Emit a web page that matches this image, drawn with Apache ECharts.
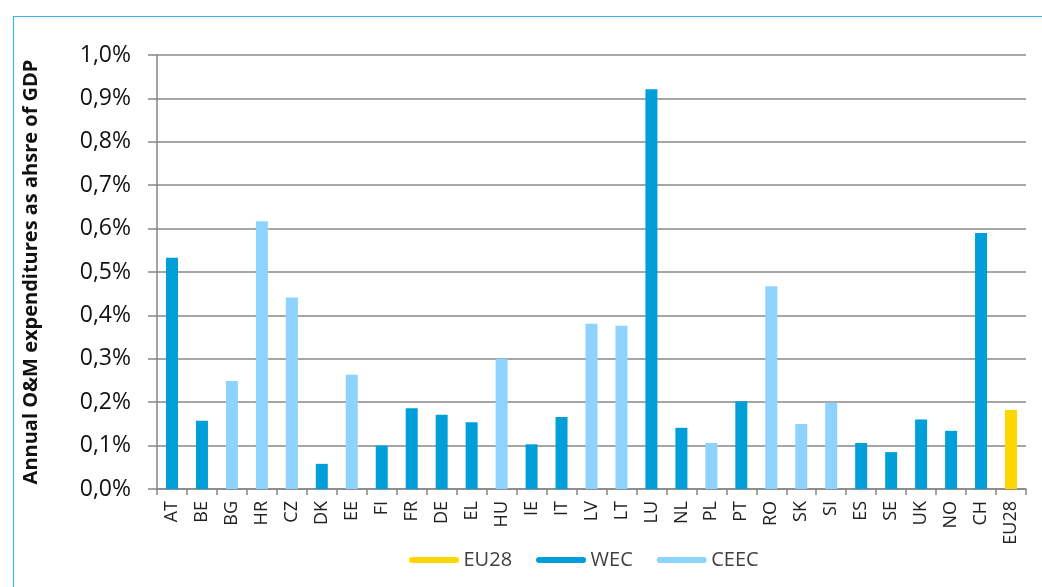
<!DOCTYPE html>
<html>
<head>
<meta charset="utf-8">
<script src="https://cdn.jsdelivr.net/npm/echarts@6/dist/echarts.min.js"></script>
<style>html,body{margin:0;padding:0;background:#fff}#c{width:1042px;height:587px}</style>
</head>
<body>
<div id="c"></div>
<script>
const categories = ['AT','BE','BG','HR','CZ','DK','EE','FI','FR','DE','EL','HU','IE','IT','LV','LT','LU','NL','PL','PT','RO','SK','SI','ES','SE','UK','NO','CH','EU28'];
const values = [0.533,0.157,0.249,0.617,0.441,0.058,0.263,0.100,0.186,0.171,0.154,0.300,0.103,0.166,0.381,0.376,0.921,0.141,0.106,0.202,0.467,0.150,0.199,0.106,0.085,0.160,0.134,0.590,0.182];
const groups = ['WEC','WEC','CEEC','CEEC','CEEC','WEC','CEEC','WEC','WEC','WEC','WEC','CEEC','WEC','WEC','CEEC','CEEC','WEC','WEC','CEEC','WEC','CEEC','CEEC','CEEC','WEC','WEC','WEC','WEC','WEC','EU28'];
const seriesNames = ['EU28','WEC','CEEC'];
const colors = {EU28:'#FFD700', WEC:'#009FD9', CEEC:'#8DD3FD'};

const chart = echarts.init(document.getElementById('c'), null, {renderer:'canvas'});
const FONT = '"Open Sans", "Noto Sans", sans-serif';
const series = seriesNames.map(n => ({
  name: n,
  type: 'bar',
  stack: 'all',
  barWidth: 12,
  itemStyle: {color: colors[n]},
  data: values.map((v,i) => groups[i] === n ? v : '-')
}));

chart.setOption({
  animation: false,
  graphic: [{
    type: 'rect', left: 11, top: 14, silent: true,
    shape: {width: 1100, height: 700},
    style: {fill: 'none', stroke: '#3DB5E6', lineWidth: 1.2}
  }],
  legend: {
    data: seriesNames.map(n => ({name: n, icon: 'path://M3,0 L47,0 A3,3 0 0 1 47,6 L3,6 A3,3 0 0 1 3,0 Z'})),
    bottom: 12, left: 404,
    itemWidth: 51, itemHeight: 6, itemGap: 24,
    textStyle: {fontFamily: FONT, fontSize: 20, color: '#404040', padding:[0,0,0,-1]}
  },
  grid: {left: 157, right: 16, top: 55, bottom: 98},
  xAxis: {
    type: 'category',
    data: categories,
    axisLine: {lineStyle: {color: '#868686', width: 1.5}},
    axisTick: {show: true, length: 6, lineStyle: {color: '#868686', width: 1.5}},
    axisLabel: {rotate: 90, fontFamily: FONT, fontSize: 18, color: '#222', margin: 12, interval: 0}
  },
  yAxis: {
    type: 'value',
    min: 0, max: 1.0, interval: 0.1,
    name: 'Annual O&M expenditures as ahsre of GDP',
    nameLocation: 'middle', nameGap: 116, nameRotate: 90,
    nameTextStyle: {fontFamily: FONT, fontSize: 20, fontWeight: 'bold', color: '#111'},
    axisLine: {show: true, lineStyle: {color: '#868686', width: 1.5}},
    axisTick: {show: true, length: 9, lineStyle: {color: '#868686', width: 1.5}},
    splitLine: {lineStyle: {color: '#888', width: 1.5}},
    axisLabel: {
      fontFamily: FONT, fontSize: 23, color: '#111', margin: 26,
      formatter: v => v.toFixed(1).replace('.', ',') + '%'
    }
  },
  series: series
});
</script>
</body>
</html>
